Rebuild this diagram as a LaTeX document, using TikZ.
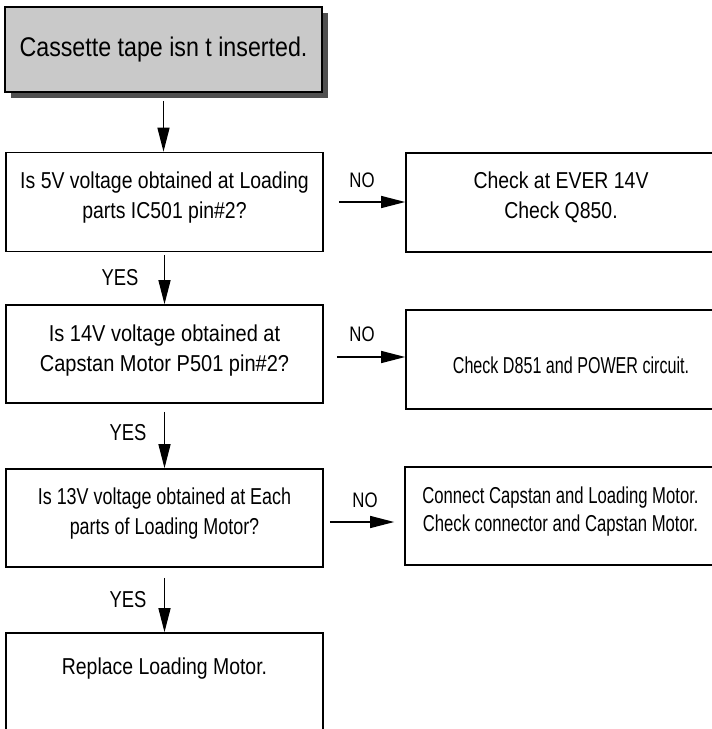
\documentclass[tikz,border=0pt]{standalone}
\usepackage{fontspec}
\setmainfont{Liberation Sans}
\newfontfamily\topfont{Liberation Sans}[FakeStretch=0.86]
\newfontfamily\qfonta{Liberation Sans}[FakeStretch=0.845]
\newfontfamily\qfontb{Liberation Sans}[FakeStretch=0.87]
\newfontfamily\qfontc{Liberation Sans}[FakeStretch=0.78]
\newfontfamily\sfontb{Liberation Sans}[FakeStretch=0.70]
\newfontfamily\sfontc{Liberation Sans}[FakeStretch=0.725]
\newfontfamily\lblfont{Liberation Sans}[FakeStretch=0.8]
\usetikzlibrary{arrows.meta,calc}
\definecolor{boxgray}{RGB}{201,201,201}
\definecolor{shadowgray}{RGB}{80,80,80}
\newcommand{\lowstrut}[1]{\rule[-#1]{0pt}{#1}}
\newcommand{\highstrut}[1]{\rule{0pt}{#1}}
\tikzset{
  flowbox/.style={draw, line width=1.6pt, minimum width=317pt, minimum height=99pt,
    inner sep=0pt, align=center, font=\qfonta\fontsize{23}{30}\selectfont},
  sidebox/.style={draw, line width=1.6pt, minimum width=310pt, minimum height=99pt,
    inner sep=0pt, align=center, font=\qfonta\fontsize{23}{30}\selectfont},
  arr/.style={line width=1.3pt, -{Triangle[length=24pt,width=12pt]}},
  yeslbl/.style={font=\lblfont\fontsize{23}{26}\selectfont, inner sep=0pt},
  nolbl/.style={font=\lblfont\fontsize{21}{24}\selectfont, inner sep=0pt}
}
\begin{document}
\begin{tikzpicture}[x=1pt,y=-1pt]
\useasboundingbox (0,0) rectangle (712,729);
\clip (0,0) rectangle (712,729);
% start box with shadow
\fill[shadowgray] (11,13) rectangle (328,98);
\node[draw, line width=1.6pt, fill=boxgray, minimum width=317pt, minimum height=85pt,
  inner sep=0pt, font=\topfont\fontsize{27}{30}\selectfont] (start) at (163.5,49.5)
  {Cassette tape isn t inserted.};
% question boxes
\node[flowbox] (q1) at (164.5,202)
  {Is 5V voltage obtained at Loading\\parts IC501 pin\#2?\lowstrut{14pt}};
\node[flowbox, minimum height=98pt, font=\qfontb\fontsize{23}{30}\selectfont] (q2) at (164.5,354)
  {Is 14V voltage obtained at\\Capstan Motor P501 pin\#2?\lowstrut{12pt}};
\node[flowbox, minimum height=98pt, font=\qfontc\fontsize{23}{30}\selectfont] (q3) at (164.5,518)
  {Is 13V voltage obtained at Each\\parts of Loading Motor?\lowstrut{14pt}};
\node[flowbox, minimum height=127pt] (end) at (164.5,696.5)
  {Replace Loading Motor.\lowstrut{60pt}};
% side boxes
\node[sidebox] (a1) at (561,202.5) {Check at EVER 14V\\Check Q850.\lowstrut{14pt}};
\node[sidebox, font=\sfontb\fontsize{23}{30}\selectfont] (a2) at (561,359.5)
  {\hspace*{20pt}\highstrut{29pt}Check D851 and POWER circuit.};
\node[sidebox, minimum width=311pt, minimum height=98pt, font=\sfontc\fontsize{23}{28}\selectfont] (a3) at (560.5,516)
  {Connect Capstan and Loading Motor.\\Check connector and Capstan Motor.\lowstrut{14pt}};
% vertical arrows
\draw[arr] ([yshift=-8pt]start.south) -- (start.south |- q1.north);
\draw[arr] ([yshift=-3pt]q1.south) -- (q1.south |- q2.north);
\draw[arr] ([yshift=-8pt]q2.south) -- (q2.south |- q3.north);
\draw[arr] ([yshift=-10pt]q3.south) -- (q3.south |- end.north);
% horizontal arrows
\draw[arr] ([xshift=15pt]q1.east) -- (q1.east -| a1.west);
\draw[arr] ($(q2.east)+(13,3)$) coordinate (n2s) -- (n2s -| a2.west);
\draw[arr] ($(q3.east)+(6,4)$) coordinate (n3s) -- ($(n3s -| a3.west)+(-10,0)$);
% labels
\node[nolbl] (no1) at (362,180) {NO};
\node[nolbl] (no2) at (362,334) {NO};
\node[nolbl] (no3) at (365,500) {NO};
\node[yeslbl] (yes1) at (120,278) {YES};
\node[yeslbl] (yes2) at (128,433) {YES};
\node[yeslbl] (yes3) at (128,600) {YES};
\end{tikzpicture}
\end{document}
